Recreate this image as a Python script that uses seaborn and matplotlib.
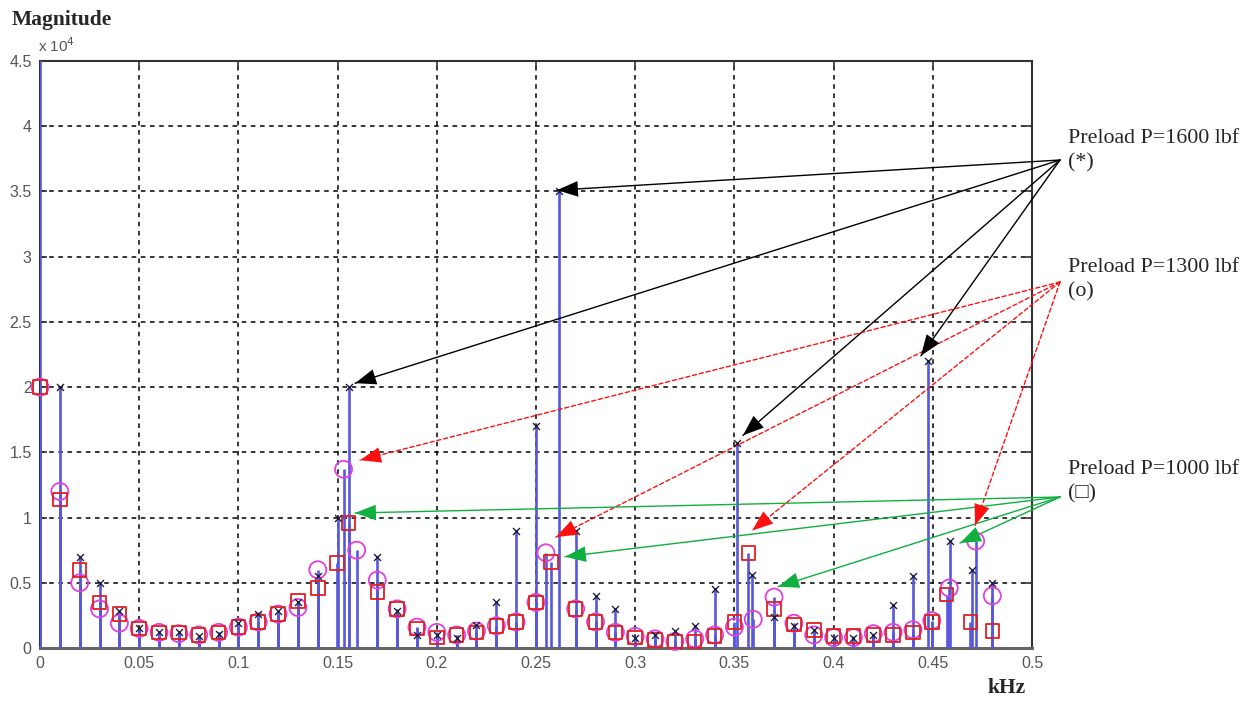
import matplotlib
matplotlib.use("Agg")
import matplotlib.pyplot as plt
import seaborn as sns
import numpy as np
import pandas as pd

# ---------------- data (magnitude in units of 1e4, frequency in kHz) ----------------
f_1600 = [0.0, 0.01, 0.02, 0.03, 0.04, 0.05, 0.06, 0.07, 0.08, 0.09, 0.10, 0.11, 0.12, 0.13,
          0.14, 0.15, 0.1556, 0.17, 0.18, 0.19, 0.20, 0.21, 0.22, 0.23, 0.24, 0.25, 0.2616,
          0.27, 0.28, 0.29, 0.30, 0.31, 0.32, 0.33, 0.34, 0.3512, 0.359, 0.37, 0.38, 0.39,
          0.40, 0.41, 0.42, 0.43, 0.44, 0.4476, 0.4588, 0.47, 0.48]
m_1600 = [5.0, 2.0, 0.7, 0.5, 0.28, 0.15, 0.12, 0.12, 0.09, 0.11, 0.19, 0.26, 0.28, 0.35,
          0.55, 1.0, 2.0, 0.7, 0.28, 0.1, 0.1, 0.08, 0.18, 0.35, 0.9, 1.7, 3.5,
          0.9, 0.4, 0.3, 0.08, 0.1, 0.13, 0.17, 0.45, 1.57, 0.56, 0.24, 0.17, 0.14,
          0.08, 0.08, 0.1, 0.33, 0.55, 2.2, 0.82, 0.6, 0.5]

f_1300 = [0.0, 0.01, 0.02, 0.03, 0.04, 0.05, 0.06, 0.07, 0.08, 0.09, 0.10, 0.11, 0.12, 0.13,
          0.14, 0.153, 0.1596, 0.17, 0.18, 0.19, 0.20, 0.21, 0.22, 0.23, 0.24, 0.25, 0.255,
          0.27, 0.28, 0.29, 0.30, 0.31, 0.32, 0.33, 0.34, 0.35, 0.3595, 0.37, 0.38, 0.39,
          0.40, 0.41, 0.42, 0.43, 0.44, 0.4495, 0.4583, 0.4716, 0.48]
m_1300 = [2.0, 1.2, 0.5, 0.3, 0.19, 0.15, 0.12, 0.11, 0.1, 0.12, 0.16, 0.2, 0.26, 0.31,
          0.6, 1.37, 0.75, 0.52, 0.3, 0.16, 0.12, 0.1, 0.13, 0.17, 0.2, 0.35, 0.73,
          0.3, 0.2, 0.12, 0.09, 0.07, 0.05, 0.07, 0.1, 0.16, 0.22, 0.39, 0.19, 0.1,
          0.08, 0.08, 0.11, 0.12, 0.14, 0.21, 0.46, 0.82, 0.4]

f_1000 = [0.0, 0.01, 0.02, 0.03, 0.04, 0.05, 0.06, 0.07, 0.08, 0.09, 0.10, 0.11, 0.12, 0.13,
          0.14, 0.1496, 0.1556, 0.17, 0.18, 0.19, 0.20, 0.21, 0.22, 0.23, 0.24, 0.25, 0.2576,
          0.27, 0.28, 0.29, 0.30, 0.31, 0.32, 0.33, 0.34, 0.35, 0.357, 0.37, 0.38, 0.39,
          0.40, 0.41, 0.42, 0.43, 0.44, 0.4495, 0.457, 0.469, 0.48]
m_1000 = [2.0, 1.14, 0.6, 0.35, 0.26, 0.15, 0.12, 0.12, 0.1, 0.12, 0.16, 0.2, 0.26, 0.36,
          0.46, 0.65, 0.96, 0.43, 0.3, 0.15, 0.08, 0.1, 0.12, 0.17, 0.2, 0.35, 0.66,
          0.3, 0.2, 0.12, 0.08, 0.06, 0.05, 0.05, 0.09, 0.2, 0.73, 0.3, 0.18, 0.14,
          0.09, 0.09, 0.1, 0.1, 0.12, 0.2, 0.41, 0.2, 0.13]

x_ticks = [0, 0.05, 0.1, 0.15, 0.2, 0.25, 0.3, 0.35, 0.4, 0.45, 0.5]
x_ticklabels = ["0", "0.05", "0.1", "0.15", "0.2", "0.25", "0.3", "0.35", "0.4", "0.45", "0.5"]
y_ticks = [0, 0.5, 1, 1.5, 2, 2.5, 3, 3.5, 4, 4.5]
y_ticklabels = ["0", "0.5", "1", "1.5", "2", "2.5", "3", "3.5", "4", "4.5"]

labels = ["Preload P=1600 lbf\n(*)", "Preload P=1300 lbf\n(o)", "Preload P=1000 lbf\n(\u25a1)"]

# arrow targets (kHz, x1e4)
arrows_1600 = [(0.2606, 3.51), (0.1588, 2.03), (0.3543, 1.63), (0.4440, 2.24)]
arrows_1300 = [(0.1613, 1.44), (0.2600, 0.85), (0.3589, 0.90), (0.4713, 0.94)]
arrows_1000 = [(0.1588, 1.035), (0.2646, 0.70), (0.3720, 0.47), (0.4637, 0.805)]

# ---------------- figure ----------------
sns.set_style("white")
plt.rcParams["font.family"] = ["Liberation Sans", "DejaVu Sans"]

fig = plt.figure(figsize=(12.52, 7.02), dpi=100)
ax = fig.add_axes([40 / 1252, 54 / 702, 992 / 1252, 587 / 702])

stem_color = "#5858dc"
df = pd.concat([
    pd.DataFrame({"f": f_1600, "m": m_1600, "s": "1600"}),
    pd.DataFrame({"f": f_1300, "m": m_1300, "s": "1300"}),
    pd.DataFrame({"f": f_1000, "m": m_1000, "s": "1000"}),
])

ax.vlines(df["f"], 0, df["m"], color=stem_color, lw=1.9, zorder=3)

d = df[df.s == "1300"]
sns.scatterplot(data=d, x="f", y="m", ax=ax, marker="o", s=150, facecolor="none",
                edgecolor="#e040e0", linewidth=1.3, zorder=4, legend=False, clip_on=False)
d = df[df.s == "1000"]
sns.scatterplot(data=d, x="f", y="m", ax=ax, marker="s", s=95, facecolor="none",
                edgecolor="#e02020", linewidth=1.3, zorder=5, legend=False, clip_on=False)
d = df[(df.s == "1600") & (df.m <= 4.5)]
sns.scatterplot(data=d, x="f", y="m", ax=ax, marker="x", s=25, color="#202040",
                linewidth=1.0, zorder=6, legend=False)

ax.set_xlim(0, 0.5)
ax.set_ylim(0, 4.5)
ax.set_xticks(x_ticks)
ax.set_xticklabels(x_ticklabels)
ax.set_yticks(y_ticks)
ax.set_yticklabels(y_ticklabels)
ax.set_xlabel("")
ax.set_ylabel("")
ax.tick_params(direction="in", length=5, width=1.2, colors="#333333",
               labelcolor="#555555", labelsize=11.5, pad=6, top=True, right=True,
               bottom=True, left=True)
ax.grid(True, color="black", linestyle=(0, (3, 3)), linewidth=1.1, zorder=1)
ax.set_axisbelow(True)
for side in ["top", "right", "bottom", "left"]:
    ax.spines[side].set_color("#333333")
    ax.spines[side].set_linewidth(1.5)
ax.spines["bottom"].set_color("#666666")
ax.spines["bottom"].set_linewidth(2.2)
ax.spines["left"].set_zorder(2)

# ---------------- texts ----------------
serif = ["Liberation Serif", "DejaVu Serif"]
fig.text(12 / 1252, 1 - 20 / 702, "Magnitude", family=serif, weight="bold",
         fontsize=15.5, ha="left", va="center")
fig.text(38 / 1252, 1 - 46 / 702, r"x 10$^{4}$", fontsize=11, color="#555555",
         ha="left", va="center")
fig.text(1007 / 1252, 1 - 688 / 702, "kHz", family=serif, weight="bold",
         fontsize=15.5, ha="center", va="center")

text_pos = [(1068, 151), (1068, 280), (1068, 482)]
for (tx, ty), lab in zip(text_pos, labels):
    fig.text(tx / 1252, 1 - ty / 702, lab, family=serif, fontsize=15.8,
             ha="left", va="center", linespacing=1.4)

origins = [(1060, 160), (1060, 282), (1060, 497)]
groups = [(arrows_1600, "black", "-"), (arrows_1300, "#ff1010", (0, (3, 2))),
          (arrows_1000, "#10b040", "-")]
for (ox, oy), (targets, col, ls) in zip(origins, groups):
    for tgt in targets:
        ax.annotate("", xy=tgt, xycoords="data", xytext=(ox, 702 - oy),
                    textcoords="figure pixels", annotation_clip=False,
                    arrowprops=dict(arrowstyle="-", color=col, lw=1.0, linestyle=ls,
                                    shrinkA=0, shrinkB=0))
        ax.annotate("", xy=tgt, xycoords="data", xytext=(ox, 702 - oy),
                    textcoords="figure pixels", annotation_clip=False,
                    arrowprops=dict(arrowstyle="-|>,head_length=0.75,head_width=0.28",
                                    mutation_scale=20, color=col, lw=0.01,
                                    shrinkA=0, shrinkB=0, fill=True),
                    zorder=7)

fig.savefig("out.png", dpi=100)
